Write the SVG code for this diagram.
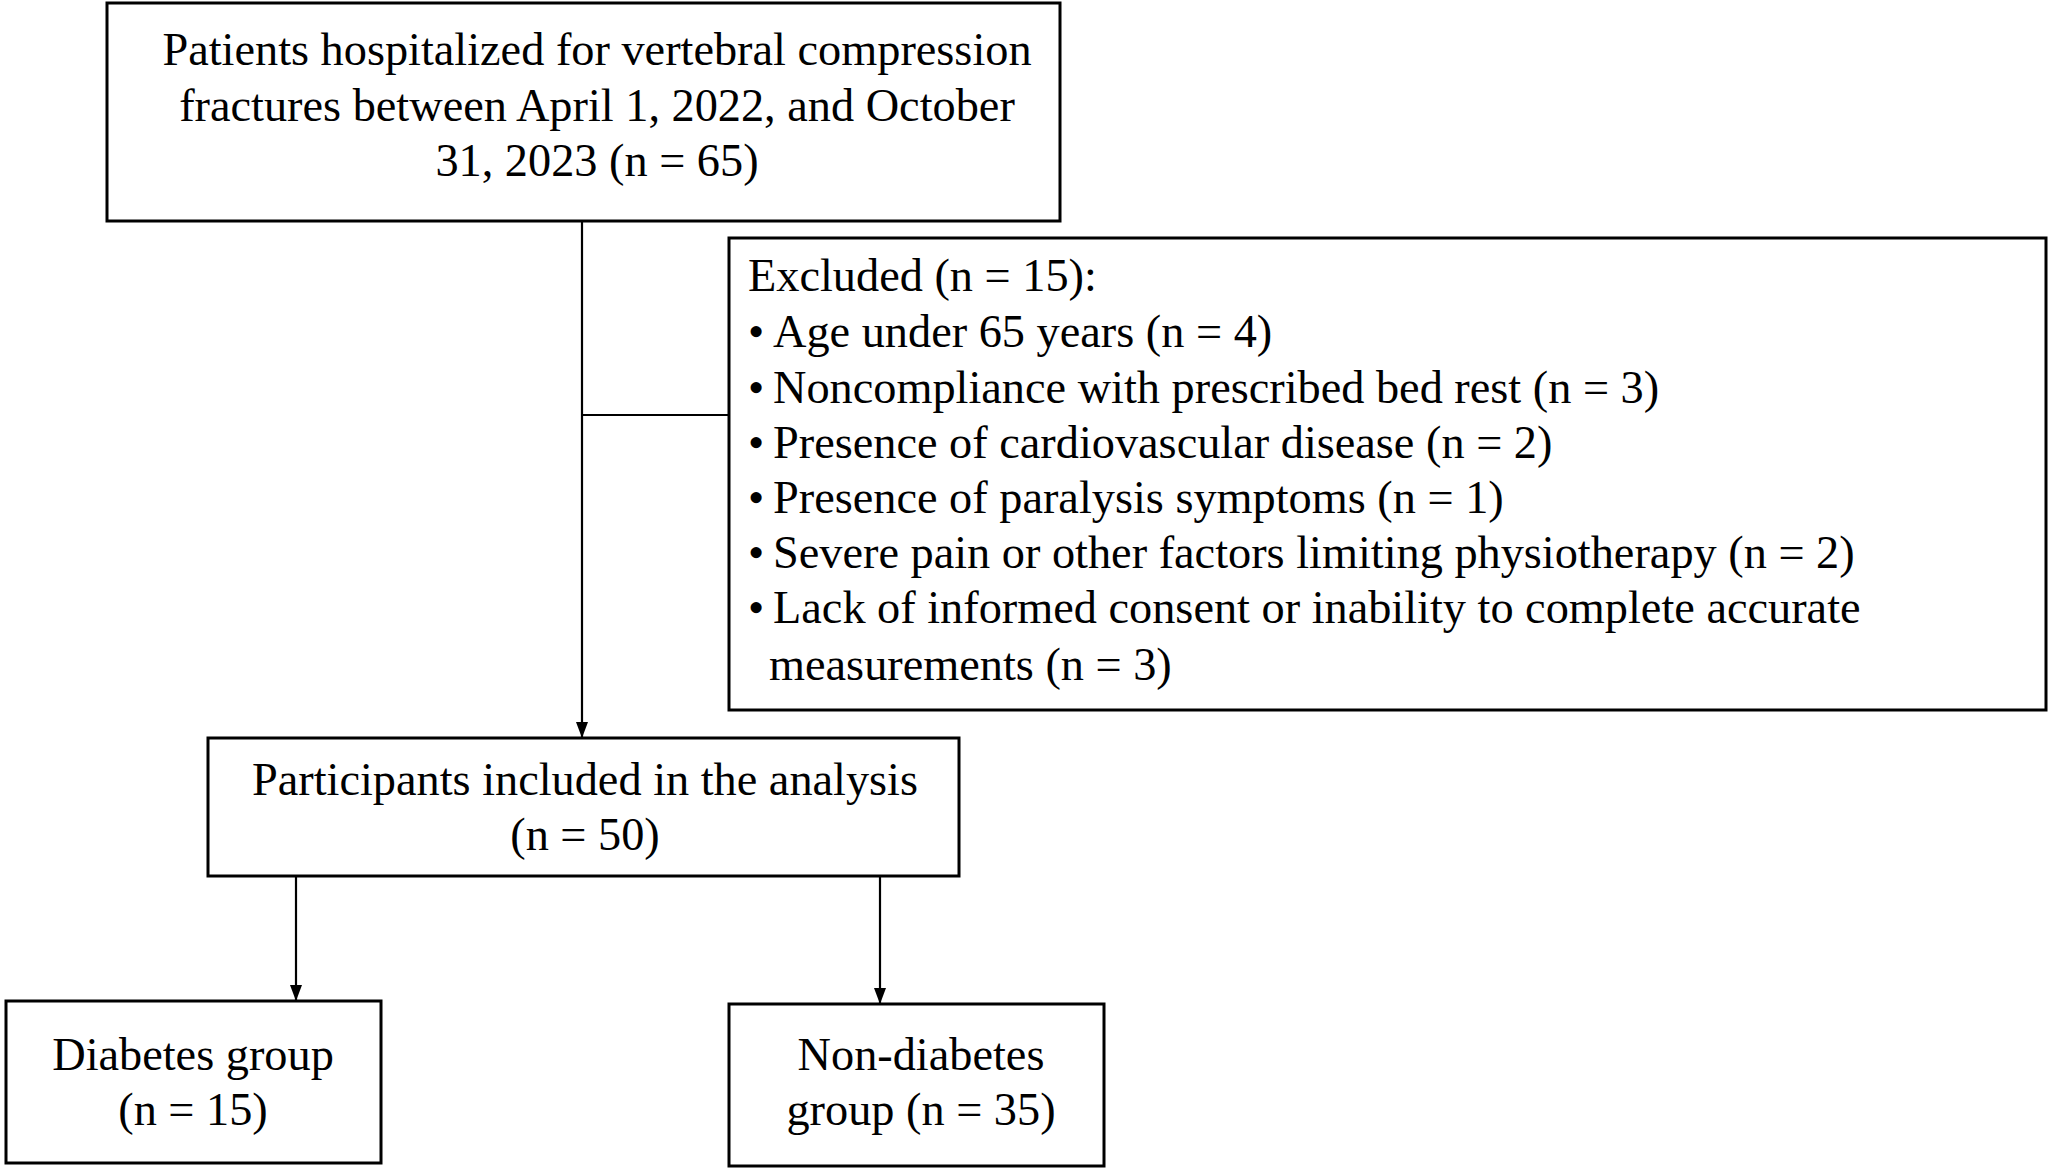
<svg xmlns="http://www.w3.org/2000/svg" width="2056" height="1168" viewBox="0 0 2056 1168">
<style>
.box{fill:#fff;stroke:#000;stroke-width:3}
.t{font-family:"Liberation Serif","Times New Roman",serif;font-size:46.3px;fill:#000}
.c{text-anchor:middle}
.ln{stroke:#000;stroke-width:2.2;fill:none}
</style>
<defs>
<marker id="arrd" markerUnits="userSpaceOnUse" markerWidth="16" markerHeight="12" refX="15" refY="6" orient="auto" viewBox="0 0 16 12">
<path d="M0,0 L16,6 L0,12 Z" fill="#000"/>
</marker>
</defs>
<rect width="2056" height="1168" fill="#fff"/>
<g id="connectors">
<line class="ln" x1="582" y1="221" x2="582" y2="737" marker-end="url(#arrd)"/>
<line class="ln" x1="582" y1="415" x2="729" y2="415"/>
<line class="ln" x1="296" y1="876" x2="296" y2="1000" marker-end="url(#arrd)"/>
<line class="ln" x1="880" y1="876" x2="880" y2="1003" marker-end="url(#arrd)"/>
</g>
<g id="node-source">
<rect class="box" x="107" y="3" width="953" height="218"/>
<text class="t c" x="597" y="65">Patients hospitalized for vertebral compression</text>
<text class="t c" x="597" y="121">fractures between April 1, 2022, and October</text>
<text class="t c" x="597" y="176">31, 2023 (n = 65)</text>
</g>
<g id="node-excluded">
<rect class="box" x="729" y="238" width="1317" height="472"/>
<text class="t" x="748" y="291">Excluded (n = 15):</text>
<text class="t" y="347"><tspan x="748">•</tspan><tspan x="773">Age under 65 years (n = 4)</tspan></text>
<text class="t" y="403"><tspan x="748">•</tspan><tspan x="773">Noncompliance with prescribed bed rest (n = 3)</tspan></text>
<text class="t" y="458"><tspan x="748">•</tspan><tspan x="773">Presence of cardiovascular disease (n = 2)</tspan></text>
<text class="t" y="513"><tspan x="748">•</tspan><tspan x="773">Presence of paralysis symptoms (n = 1)</tspan></text>
<text class="t" y="568"><tspan x="748">•</tspan><tspan x="773">Severe pain or other factors limiting physiotherapy (n = 2)</tspan></text>
<text class="t" y="623"><tspan x="748">•</tspan><tspan x="773">Lack of informed consent or inability to complete accurate</tspan></text>
<text class="t" x="769" y="680">measurements (n = 3)</text>
</g>
<g id="node-included">
<rect class="box" x="208" y="738" width="751" height="138"/>
<text class="t c" x="585" y="795">Participants included in the analysis</text>
<text class="t c" x="585" y="850">(n = 50)</text>
</g>
<g id="node-diabetes">
<rect class="box" x="6" y="1001" width="375" height="162"/>
<text class="t c" x="193" y="1070">Diabetes group</text>
<text class="t c" x="193" y="1125">(n = 15)</text>
</g>
<g id="node-nondiabetes">
<rect class="box" x="729" y="1004" width="375" height="162"/>
<text class="t c" x="921" y="1070">Non-diabetes</text>
<text class="t c" x="921" y="1125">group (n = 35)</text>
</g>
</svg>
